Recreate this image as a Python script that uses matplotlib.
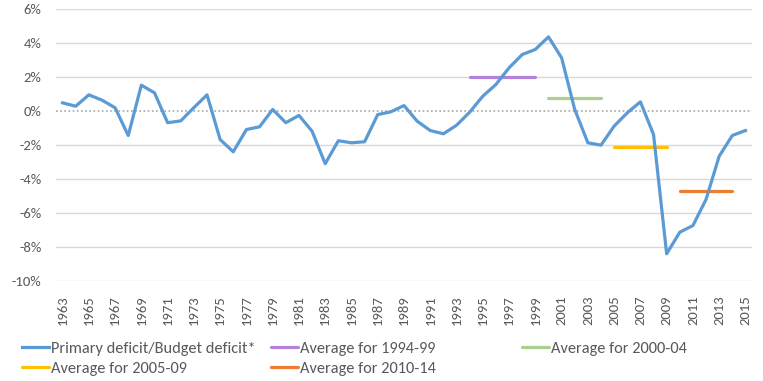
import matplotlib
matplotlib.use("Agg")
import matplotlib.pyplot as plt
from matplotlib import font_manager

years = list(range(1963, 2016))
deficit = [
    0.48, 0.28, 0.95, 0.64, 0.19, -1.44, 1.52, 1.07, -0.69, -0.58,
    0.20, 0.95, -1.68, -2.40, -1.09, -0.93, 0.09, -0.69, -0.26, -1.19,
    -3.10, -1.75, -1.87, -1.81, -0.21, -0.05, 0.32, -0.60, -1.15, -1.34,
    -0.84, -0.07, 0.87, 1.56, 2.54, 3.32, 3.62, 4.36, 3.13, 0.09,
    -1.87, -2.01, -0.89, -0.11, 0.54, -1.38, -8.40, -7.13, -6.74, -5.20,
    -2.66, -1.44, -1.15,
]

avg_labels = ["Average for 1994-99", "Average for 2000-04",
              "Average for 2005-09", "Average for 2010-14"]
avg_start = [1994, 2000, 2005, 2010]
avg_end = [1999, 2004, 2009, 2014]
avg_value = [2.01, 0.78, -2.10, -4.70]
avg_colors = ["#B482DA", "#A9D18E", "#FFC000", "#ED7D31"]

main_label = "Primary deficit/Budget deficit*"
main_color = "#5B9BD5"
text_color = "#595959"

# Calibri look-alike if there is one
installed = {f.name for f in font_manager.fontManager.ttflist}
if "Carlito" in installed:
    plt.rcParams["font.family"] = ["Carlito", "DejaVu Sans"]
    tick_size, leg_size = 10.5, 11.8
else:
    plt.rcParams["font.family"] = ["Lato", "DejaVu Sans"]
    tick_size, leg_size = 9.5, 10.5

fig = plt.figure(figsize=(7.63, 3.81), dpi=100)
ax = fig.add_axes([0.0734, 0.2625, 0.9122, 0.7139])

for v in range(-10, 7, 2):
    if v == 0:
        ax.axhline(0, color="#A6A6A6", lw=1.2, ls=(0, (1, 1.5)), zorder=1)
    else:
        ax.axhline(v, color="#D9D9D9", lw=1.0, zorder=0)

avg_handles = []
for lab, s, e, v, c in zip(avg_labels, avg_start, avg_end, avg_value, avg_colors):
    h, = ax.plot([s, e], [v, v], color=c, lw=2.3, solid_capstyle="round",
                 label=lab, zorder=2)
    avg_handles.append(h)

main, = ax.plot(years, deficit, color=main_color, lw=2.3, label=main_label,
                solid_joinstyle="round", zorder=3)

ax.set_xlim(1962.5, 2015.5)
ax.set_ylim(-10, 6)
ax.set_yticks(range(-10, 7, 2))
ax.set_yticklabels([f"{v}%" for v in range(-10, 7, 2)])
ax.set_xticks(years[::2])
ax.set_xticklabels([str(y) for y in years[::2]], rotation=90)
ax.tick_params(axis="both", length=0, colors=text_color, labelsize=tick_size)
ax.tick_params(axis="y", pad=10.5)
ax.tick_params(axis="x", pad=10.5)
for sp in ax.spines.values():
    sp.set_visible(False)

# one legend per column, equal spacing like the original
cols = [
    ([main, avg_handles[2]], 0.0288),
    ([avg_handles[0], avg_handles[3]], 0.355),
    ([avg_handles[1]], 0.684),
]
for hs, x0 in cols:
    fig.legend(handles=hs, labels=[h.get_label() for h in hs],
               loc="upper left", bbox_to_anchor=(x0, 0.103), frameon=False,
               fontsize=leg_size, labelcolor=text_color, handlelength=1.65,
               handletextpad=0.15, labelspacing=0.33, borderaxespad=0,
               borderpad=0)

fig.savefig("out.png", dpi=100)
